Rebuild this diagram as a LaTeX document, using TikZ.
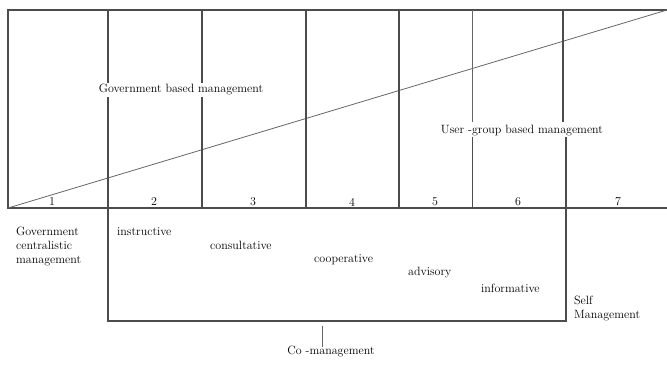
\documentclass[tikz,border=0pt]{standalone}
\begin{document}
\begin{tikzpicture}[x=1bp,y=-1bp,
  heavy/.style={draw=black!70, line width=1.4bp},
  thin/.style={draw=black!60, line width=0.8bp},
  lbl/.style={inner sep=0pt, text=black, font=\fontsize{12bp}{14bp}\selectfont},
  num/.style={lbl}]
\useasboundingbox (0,0) rectangle (667,365);
% frame
\coordinate (TL) at (8,10);
\coordinate (TR) at (667,10);
\coordinate (BL) at (8,208);
\coordinate (BR) at (667,208);
\draw[heavy] (TR) -- (TL) -- (BL) -- (BR);
\draw[thin] (BL) -- (TR);
% columns
\coordinate (a1) at (108,10); \coordinate (a2) at (108,321);
\coordinate (b1) at (202,10); \coordinate (b2) at (202,208);
\coordinate (c1) at (306,10); \coordinate (c2) at (306,208);
\coordinate (d1) at (399,10); \coordinate (d2) at (399,208);
\coordinate (e1) at (472,10); \coordinate (e2) at (472,122);
\coordinate (e3) at (472.5,137); \coordinate (e4) at (472.5,208);
\coordinate (f1) at (563,10); \coordinate (f2) at (563,122);
\coordinate (f3) at (566,137); \coordinate (f4) at (566,321);
\draw[heavy] (a1) -- (a2) -- (f4) -- (f3);
\draw[heavy] (b1) -- (b2);
\draw[heavy] (c1) -- (c2);
\draw[heavy] (d1) -- (d2);
\draw[thin] (e1) -- (e2);
\draw[heavy] (e3) -- (e4);
\draw[heavy] (f1) -- (f2);
% numbers
\node[num] (n1) at (52,202) {1};
\node[num] (n2) at (154,202) {2};
\node[num] (n3) at (253,202) {3};
\node[num] (n4) at (352,202) {4};
\node[num] (n5) at (435,202) {5};
\node[num] (n6) at (518,202) {6};
\node[num] (n7) at (618,202) {7};
% upper labels
\node[lbl, fill=white, inner ysep=1.5bp, inner xsep=0pt] (gbm) at (181,90) {Government based management};
\node[lbl] (ugb) at (522,131) {User -group based management};
% lower labels
\node[lbl, anchor=west, align=left] (gcm) at (16,246) {Government\\centralistic\\management};
\node[lbl, anchor=west] (ins) at (117,232) {instructive};
\node[lbl, anchor=west] (con) at (210,245) {consultative};
\node[lbl, anchor=west] (coo) at (314,260) {cooperative};
\node[lbl, anchor=west] (adv) at (408,273) {advisory};
\node[lbl, anchor=west] (inf) at (481,288) {informative};
\node[lbl, anchor=west, align=left] (self) at (574,308) {Self\\Management};
\node[lbl] (com) at (331,351) {Co -management};
\coordinate (t1) at (322,326);
\draw[thin] (t1) -- ([yshift=-2bp]t1 |- com.north);
\end{tikzpicture}
\end{document}
